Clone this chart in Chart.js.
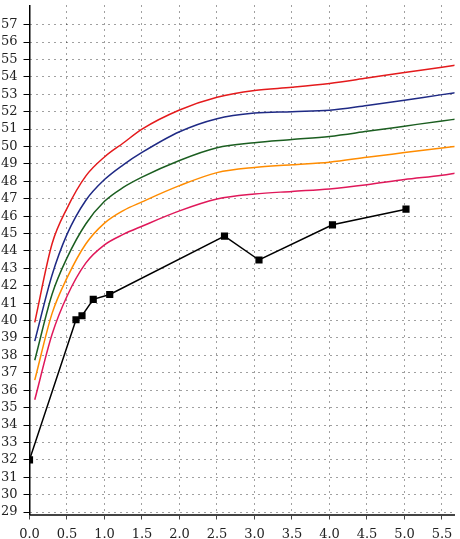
<!DOCTYPE html>
<html>
<head>
<meta charset="utf-8">
<script src="https://cdn.jsdelivr.net/npm/chart.js@4"></script>
<style>
html,body{margin:0;padding:0;background:#fff;}
#wrap{width:460px;height:539px;position:relative;}
</style>
</head>
<body>
<div id="wrap"><canvas id="c"></canvas></div>
<script>
// Curve x positions
const curveX = [0.07, 0.3, 0.5, 0.75, 1.0, 1.25, 1.5, 2.0, 2.5, 3.0, 3.5, 4.0, 4.5, 5.0, 5.5, 5.7];
const redY     = [39.9, 44.4, 46.45, 48.3, 49.4, 50.2, 51.0, 52.1, 52.83, 53.22, 53.4, 53.62, 53.93, 54.25, 54.55, 54.68];
const blueY    = [38.82, 42.6, 44.95, 46.9, 48.1, 48.95, 49.66, 50.85, 51.6, 51.92, 52.0, 52.08, 52.36, 52.66, 52.98, 53.1];
const greenY   = [37.72, 41.5, 43.6, 45.55, 46.85, 47.65, 48.24, 49.2, 49.93, 50.22, 50.4, 50.58, 50.87, 51.17, 51.47, 51.58];
const orangeY  = [36.58, 40.4, 42.45, 44.4, 45.6, 46.32, 46.82, 47.75, 48.5, 48.8, 48.95, 49.1, 49.38, 49.65, 49.92, 50.02];
const crimsonY = [35.45, 39.2, 41.4, 43.3, 44.35, 44.95, 45.42, 46.3, 46.98, 47.27, 47.42, 47.56, 47.8, 48.1, 48.35, 48.48];
// Measured series (black, square markers)
const measX = [0, 0.62, 0.7, 0.85, 1.07, 2.6, 3.06, 4.04, 5.02];
const measY = [32, 40.05, 40.28, 41.22, 41.5, 44.85, 43.48, 45.5, 46.4];
// Tick labels
const xTicks = ['0.0','0.5','1.0','1.5','2.0','2.5','3.0','3.5','4.0','4.5','5.0','5.5'];
const yTicks = [29,30,31,32,33,34,35,36,37,38,39,40,41,42,43,44,45,46,47,48,49,50,51,52,53,54,55,56,57];

const pts = (xs, ys) => xs.map((x, i) => ({x: x, y: ys[i]}));
const curve = (ys, color) => ({
  data: pts(curveX, ys), borderColor: color, borderWidth: 1.5,
  pointRadius: 0, cubicInterpolationMode: 'monotone', fill: false
});

const FONT = {family: 'DejaVu Serif', size: 13};

new Chart(document.getElementById('c'), {
  type: 'line',
  data: {
    datasets: [
      curve(redY, '#e41a1c'),
      curve(blueY, '#1f2a85'),
      curve(greenY, '#1b5e20'),
      curve(orangeY, '#ff8c00'),
      curve(crimsonY, '#e0185a'),
      {
        data: pts(measX, measY), borderColor: '#000', backgroundColor: '#000',
        borderWidth: 1.5, tension: 0, pointStyle: 'rect', pointRadius: 4,
        pointHoverRadius: 4, fill: false
      }
    ]
  },
  options: {
    responsive: true, maintainAspectRatio: false, animation: false,
    layout: {padding: 0},
    plugins: {legend: {display: false}, tooltip: {enabled: false}},
    scales: {
      x: {
        type: 'linear', min: 0, max: 5.667,
        afterBuildTicks: (s) => { s.ticks = xTicks.map(t => ({value: parseFloat(t)})); },
        afterFit: (s) => { s.paddingLeft = 0; s.paddingRight = 0; s.height = 24.5; },
        ticks: {
          color: '#222', font: FONT, padding: 7, maxRotation: 0, autoSkip: false,
          callback: (v) => xTicks.find(t => parseFloat(t) === v) || ''
        },
        grid: {color: 'rgba(0,0,0,0.75)', lineWidth: 1, tickLength: 5, tickColor: '#444'},
        border: {display: true, color: '#444', width: 2, dash: [1, 5]}
      },
      y: {
        type: 'linear', min: 28.86, max: 58.1,
        afterBuildTicks: (s) => { s.ticks = yTicks.map(v => ({value: v})); },
        afterFit: (s) => { s.paddingTop = 0; s.paddingBottom = 0; s.width = 29.5; },
        ticks: {color: '#222', font: FONT, padding: 6, autoSkip: false},
        grid: {color: 'rgba(0,0,0,0.75)', lineWidth: 1, tickLength: 6, tickColor: '#000'},
        border: {display: true, color: '#000', width: 1.5, dash: [1, 5]}
      }
    }
  }
});
</script>
</body>
</html>
